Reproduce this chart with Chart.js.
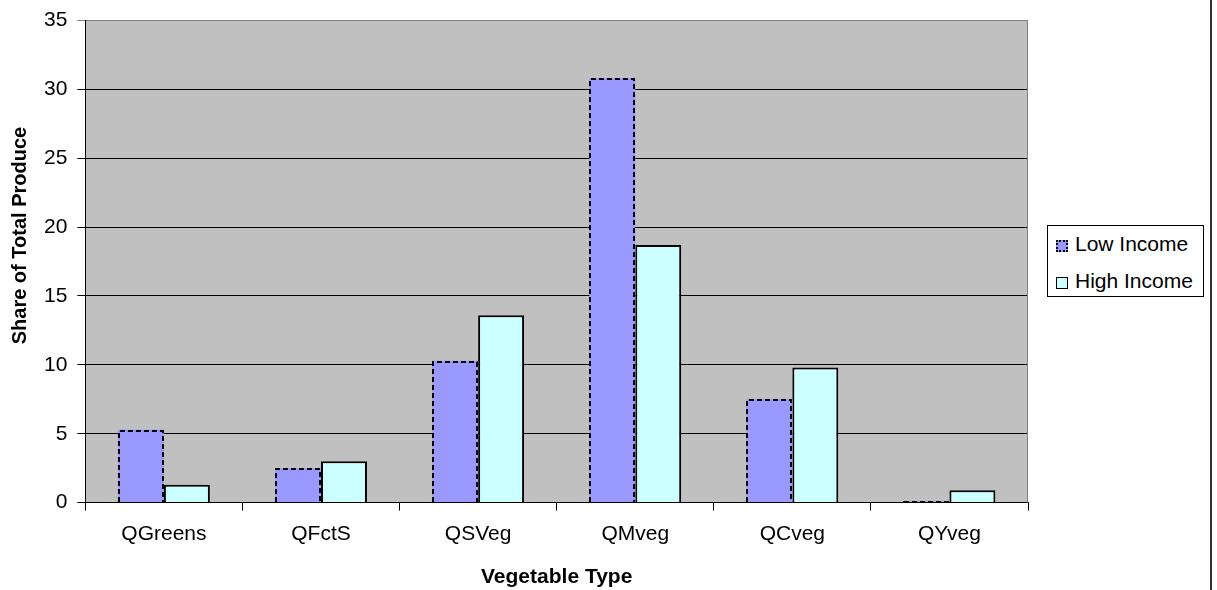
<!DOCTYPE html>
<html>
<head>
<meta charset="utf-8">
<title>Share of Total Produce by Vegetable Type</title>
<script src="https://cdn.jsdelivr.net/npm/chart.js@4/dist/chart.umd.min.js"></script>
<style>
  html, body { margin: 0; padding: 0; background: #fff; }
  #wrap { position: relative; width: 1217px; height: 590px; overflow: hidden; }
  #chart { display: block; }
  #frame { position: absolute; left: 1210px; top: 0; width: 2px; height: 590px; background: #333; }
  #legend {
    position: absolute; left: 1047px; top: 225px; width: 155px; height: 70px;
    border: 1px solid #000; background: #fff;
    font-family: "Liberation Sans", Arial, sans-serif; font-size: 21px; color: #000;
  }
  #legend .item { position: absolute; left: 8px; height: 26px; line-height: 26px; white-space: nowrap; }
  #legend .swatch { display: inline-block; width: 12px; height: 12px; margin-right: 7px; box-sizing: border-box; vertical-align: -1px; }
  #legend .low  { background: #9999ff; border: 2px dotted #000; }
  #legend .high { background: #ccffff; border: 1px solid #000; }
</style>
</head>
<body>
<div id="wrap">
  <canvas id="chart" width="1217" height="590"></canvas>
  <div id="frame"></div>
  <div id="legend">
    <div class="item" style="top:5px"><span class="swatch low"></span>Low Income</div>
    <div class="item" style="top:42px"><span class="swatch high"></span>High Income</div>
  </div>
</div>
<script>
/* share of total produce, low vs high income households */

const categories = ["QGreens", "QFctS", "QSVeg", "QMveg", "QCveg", "QYveg"];
const lowIncome  = [5.3, 2.5, 10.3, 30.8, 7.5, 0.1];
const highIncome = [1.3, 3.0, 13.6, 18.7, 9.8, 0.9];
const seriesNames = ["Low Income", "High Income"];

const yMin  = 0;
const yMax  = 35;
const yStep = 5;

const yTitle = "Share of Total Produce";
const xTitle = "Vegetable Type";

const FONT = "'Liberation Sans', Arial, sans-serif";

// grey plot area behind the bars
const plotBackground = {
  id: "plotBackground",
  beforeDraw(chart) {
    const { ctx, chartArea: a } = chart;
    ctx.save();
    ctx.fillStyle = "#c0c0c0";
    ctx.fillRect(a.left, a.top, a.right - a.left, a.bottom - a.top);
    ctx.restore();
  },
  beforeDatasetsDraw(chart) {
    const { ctx, chartArea: a } = chart;
    ctx.save();
    ctx.strokeStyle = "#808080";
    ctx.lineWidth = 1;
    ctx.beginPath();
    ctx.moveTo(a.right - 0.5, a.top);
    ctx.lineTo(a.right - 0.5, a.bottom);
    ctx.stroke();
    ctx.restore();
  },
};

// bar elements have no dash option, so outline the first series by hand
const dashedBars = {
  id: "dashedBars",
  afterDatasetsDraw(chart) {
    const meta = chart.getDatasetMeta(0);
    const ctx  = chart.ctx;
    ctx.save();
    ctx.strokeStyle = "#000";
    ctx.lineWidth = 2;
    ctx.setLineDash([5, 3]);
    meta.data.forEach(bar => {
      const { x, y, base, width } = bar.getProps(["x", "y", "base", "width"], true);
      const l = Math.round(x - width / 2) + 1;
      const r = Math.round(x + width / 2) - 1;
      const t = Math.round(y) + 1;
      ctx.beginPath();
      ctx.moveTo(l, base);
      ctx.lineTo(l, t);
      ctx.lineTo(r, t);
      ctx.lineTo(r, base);
      ctx.stroke();
    });
    ctx.restore();
  },
};

// value axis title sits a little above the middle of the plot
const valueAxisTitle = {
  id: "valueAxisTitle",
  afterDraw(chart) {
    const { ctx, chartArea: a } = chart;
    ctx.save();
    ctx.translate(20, (a.top + a.bottom) / 2 - 26);
    ctx.rotate(-Math.PI / 2);
    ctx.font = "bold 20px " + FONT;
    ctx.fillStyle = "#000";
    ctx.textAlign = "center";
    ctx.textBaseline = "middle";
    ctx.fillText(yTitle, 0, 0);
    ctx.restore();
  },
};

new Chart(document.getElementById("chart"), {
  type: "bar",
  data: {
    labels: categories,
    datasets: [
      {
        label: seriesNames[0],
        data: lowIncome,
        backgroundColor: "#9999ff",
        borderWidth: 0,
        categoryPercentage: 0.585,
        barPercentage: 1.0,
      },
      {
        label: seriesNames[1],
        data: highIncome,
        backgroundColor: "#ccffff",
        borderColor: "#000",
        borderWidth: 2,
        categoryPercentage: 0.585,
        barPercentage: 1.0,
      },
    ],
  },
  options: {
    responsive: false,
    animation: false,
    layout: { padding: { top: 13, right: 189, bottom: 0, left: 34 } },
    plugins: {
      legend: { display: false },
      tooltip: { enabled: false },
    },
    scales: {
      x: {
        grid: {
          offset: true,
          drawOnChartArea: false,
          color: "#000",
          tickLength: 8,
        },
        border: { display: true, color: "#000", width: 1 },
        ticks: { color: "#000", padding: 11, font: { family: FONT, size: 21 } },
        title: {
          display: true,
          text: xTitle,
          color: "#000",
          font: { family: FONT, size: 21, weight: "bold" },
          padding: { top: 7, bottom: 0 },
        },
      },
      y: {
        min: yMin,
        max: yMax,
        grid: {
          color: c => (c.tick && c.tick.value === yMax ? "#808080" : "#000"),
          lineWidth: 1,
          tickLength: 8,
        },
        border: { display: true, color: "#000", width: 1 },
        ticks: {
          stepSize: yStep,
          color: "#000",
          padding: 10,
          font: { family: FONT, size: 21, lineHeight: 1.0 },
        },
      },
    },
  },
  plugins: [plotBackground, dashedBars, valueAxisTitle],
});
</script>
</body>
</html>
